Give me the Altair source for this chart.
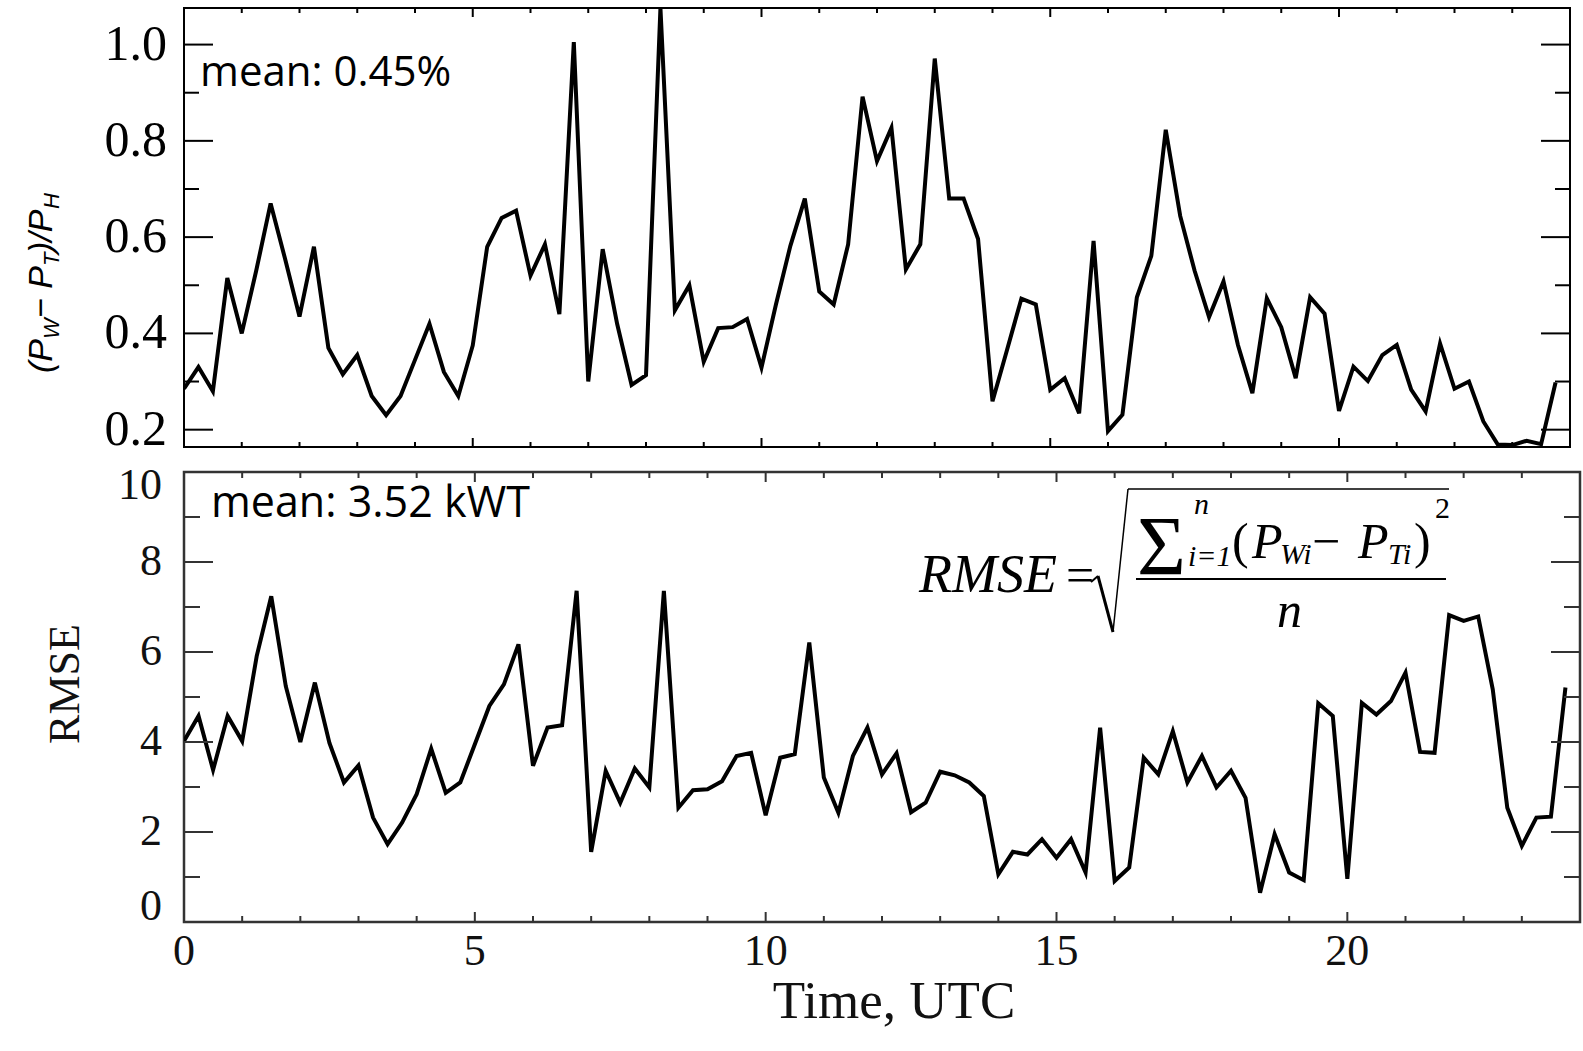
import altair as alt
import pandas as pd

# ---------------- data ----------------
hours = [0.0, 0.25, 0.5, 0.75, 1.0, 1.25, 1.5, 1.75, 2.0, 2.25,
         2.5, 2.75, 3.0, 3.25, 3.5, 3.75, 4.0, 4.25, 4.5, 4.75,
         5.0, 5.25, 5.5, 5.75, 6.0, 6.25, 6.5, 6.75, 7.0, 7.25,
         7.5, 7.75, 8.0, 8.25, 8.5, 8.75, 9.0, 9.25, 9.5, 9.75,
         10.0, 10.25, 10.5, 10.75, 11.0, 11.25, 11.5, 11.75, 12.0, 12.25,
         12.5, 12.75, 13.0, 13.25, 13.5, 13.75, 14.0, 14.25, 14.5, 14.75,
         15.0, 15.25, 15.5, 15.75, 16.0, 16.25, 16.5, 16.75, 17.0, 17.25,
         17.5, 17.75, 18.0, 18.25, 18.5, 18.75, 19.0, 19.25, 19.5, 19.75,
         20.0, 20.25, 20.5, 20.75, 21.0, 21.25, 21.5, 21.75, 22.0, 22.25,
         22.5, 22.75, 23.0, 23.25, 23.5, 23.75]

ratio = [0.285, 0.33, 0.28, 0.515, 0.40, 0.53, 0.67, 0.555, 0.435, 0.58,
         0.37, 0.315, 0.355, 0.27, 0.23, 0.27, 0.345, 0.42, 0.32, 0.27,
         0.375, 0.58, 0.64, 0.655, 0.52, 0.585, 0.44, 1.005, 0.30, 0.575,
         0.42, 0.293, 0.313, 1.076, 0.448, 0.50, 0.341, 0.411, 0.413, 0.43,
         0.329, 0.46, 0.582, 0.68, 0.487, 0.46, 0.585, 0.892, 0.758, 0.827,
         0.533, 0.585, 0.971, 0.68, 0.68, 0.596, 0.259, 0.365, 0.472, 0.46,
         0.283, 0.307, 0.234, 0.592, 0.197, 0.231, 0.475, 0.561, 0.823, 0.644,
         0.53, 0.434, 0.508, 0.376, 0.276, 0.473, 0.413, 0.307, 0.475, 0.441,
         0.239, 0.331, 0.301, 0.355, 0.376, 0.283, 0.238, 0.379, 0.285, 0.30,
         0.217, 0.169, 0.168, 0.177, 0.17, 0.298]

rmse = [4.02, 4.58, 3.38, 4.58, 4.02, 5.91, 7.24, 5.24, 4.0, 5.32,
        3.98, 3.1, 3.48, 2.32, 1.73, 2.21, 2.84, 3.85, 2.87, 3.1,
        3.95, 4.8, 5.28, 6.17, 3.47, 4.32, 4.37, 7.36, 1.56, 3.36,
        2.65, 3.41, 2.99, 7.36, 2.54, 2.93, 2.95, 3.13, 3.69, 3.76,
        2.37, 3.65, 3.73, 6.21, 3.21, 2.43, 3.69, 4.32, 3.28, 3.75,
        2.44, 2.65, 3.34, 3.26, 3.1, 2.8, 1.06, 1.56, 1.5, 1.84,
        1.43, 1.84, 1.1, 4.32, 0.91, 1.21, 3.65, 3.28, 4.24, 3.1,
        3.69, 2.99, 3.36, 2.76, 0.65, 1.95, 1.1, 0.93, 4.86, 4.58,
        0.96, 4.87, 4.61, 4.91, 5.54, 3.78, 3.76, 6.82, 6.69, 6.79,
        5.17, 2.54, 1.69, 2.32, 2.34, 5.21]

x_major = [0, 5, 10, 15, 20]
x_minor = [1, 2, 3, 4, 6, 7, 8, 9, 11, 12, 13, 14, 16, 17, 18, 19, 21, 22, 23]
top_y_major = [0.2, 0.4, 0.6, 0.8, 1.0]
top_y_minor = [0.3, 0.5, 0.7, 0.9]
bot_y_major = [0, 2, 4, 6, 8, 10]
bot_y_minor = [1, 3, 5, 7, 9]

# ---------------- layout constants ----------------
W1, H1 = 1386, 439
W2, H2 = 1396, 450
SERIF = "Liberation Serif"
SANS = "Liberation Sans"

xs = alt.Scale(domain=[0, 24], nice=False, zero=False)
ys_top = alt.Scale(domain=[0.164, 1.076], nice=False, zero=False)
ys_bot = alt.Scale(domain=[0, 10], nice=False, zero=False)

ONE = alt.Data(values=[{}])


def text(t, x, y, size, font, style="normal", align="left",
         baseline="alphabetic", angle=0, color="black"):
    return alt.Chart(ONE).mark_text(
        text=t, font=font, fontSize=size, fontStyle=style, align=align,
        baseline=baseline, angle=angle, color=color
    ).encode(x=alt.value(x), y=alt.value(y))


def seg(x1, y1, x2, y2, w=1.5, color="black"):
    return alt.Chart(ONE).mark_rule(color=color, strokeWidth=w).encode(
        x=alt.value(x1), y=alt.value(y1), x2=alt.value(x2), y2=alt.value(y2))


def yticks(vals, scale, length, width, color, sw=2):
    d = pd.DataFrame({"tk": vals})
    left = alt.Chart(d).mark_rule(color=color, strokeWidth=sw).encode(
        y=alt.Y("tk:Q", scale=scale, axis=None),
        x=alt.value(0), x2=alt.value(length))
    right = alt.Chart(d).mark_rule(color=color, strokeWidth=sw).encode(
        y=alt.Y("tk:Q", scale=scale, axis=None),
        x=alt.value(width - length), x2=alt.value(width))
    return [left, right]


def xticks(vals, length, height, color, sw=2):
    d = pd.DataFrame({"xk": vals})
    bottom = alt.Chart(d).mark_rule(color=color, strokeWidth=sw).encode(
        x=alt.X("xk:Q", scale=xs, axis=None),
        y=alt.value(height), y2=alt.value(height - length))
    top = alt.Chart(d).mark_rule(color=color, strokeWidth=sw).encode(
        x=alt.X("xk:Q", scale=xs, axis=None),
        y=alt.value(0), y2=alt.value(length))
    return [bottom, top]


def ylabels(vals, scale, fmt, xpos, size, color, baseline="middle", dy=0):
    d = pd.DataFrame({"lv": vals})
    return alt.Chart(d).mark_text(
        font=SERIF, fontSize=size, align="right", baseline=baseline,
        dy=dy, color=color
    ).encode(
        y=alt.Y("lv:Q", scale=scale, axis=None),
        x=alt.value(xpos),
        text=alt.Text("lv:Q", format=fmt))


def xlabels(vals, ypos, size, color):
    d = pd.DataFrame({"lx": vals})
    return alt.Chart(d).mark_text(
        font=SERIF, fontSize=size, align="center", baseline="middle", color=color
    ).encode(
        x=alt.X("lx:Q", scale=xs, axis=None),
        y=alt.value(ypos),
        text=alt.Text("lx:Q", format="d"))


# ---------------- top panel ----------------
top_df = pd.DataFrame({"t": hours, "v": ratio})
top_line = alt.Chart(top_df).mark_line(
    color="black", strokeWidth=4, strokeJoin="miter", clip=True
).encode(
    x=alt.X("t:Q", scale=xs, axis=None),
    y=alt.Y("v:Q", scale=ys_top, axis=None),
)

# rotated y title with subscripts: (P_W − P_T)/P_H
TX, TXS = -132, -125
ttl = [
    text("(P", TX, 365, 34, SANS, "italic", angle=270),
    text("W", TXS, 331, 22, SANS, "italic", angle=270),
    text("\u2212 P", TX, 310, 34, SANS, "italic", angle=270),
    text("T", TXS, 258, 22, SANS, "italic", angle=270),
    text(")/P", TX, 245, 34, SANS, "italic", angle=270),
    text("H", TXS, 201, 22, SANS, "italic", angle=270),
]

top = alt.layer(
    top_line,
    *yticks(top_y_major, ys_top, 29, W1, "black"),
    *yticks(top_y_minor, ys_top, 15, W1, "black"),
    *xticks(x_major, 9, H1, "black"),
    *xticks(x_minor, 5, H1, "black"),
    ylabels(top_y_major, ys_top, ".1f", -17, 50, "black"),
    text("mean: 0.45%", 16, 78, 42, "Open Sans"),
    *ttl,
).properties(width=W1, height=H1,
             view=alt.ViewBackground(stroke="black", strokeWidth=2))

# ---------------- bottom panel ----------------
GR = "#333333"
bot_df = pd.DataFrame({"t": hours, "r": rmse})
bot_line = alt.Chart(bot_df).mark_line(
    color="black", strokeWidth=4, strokeJoin="miter", clip=True
).encode(
    x=alt.X("t:Q", scale=xs, axis=None),
    y=alt.Y("r:Q", scale=ys_bot, axis=None),
)

formula = [
    text("RMSE", 735, 120, 54, SERIF, "italic"),
    text("=", 882, 120, 50, SERIF),
    seg(907, 110, 914, 104, 2),
    seg(914, 104, 929, 160, 3),
    seg(929, 160, 944, 17, 1.5),
    seg(944, 17, 1265, 17, 1.5),
    text("\u03a3", 953, 103, 84, SERIF),
    text("n", 1010, 42, 30, SERIF, "italic"),
    text("i=1", 1004, 94, 30, SERIF, "italic"),
    text("(", 1048, 86, 50, SERIF),
    text("P", 1068, 86, 50, SERIF, "italic"),
    text("Wi", 1096, 92, 30, SERIF, "italic"),
    text("\u2212", 1128, 86, 50, SERIF),
    text("P", 1174, 86, 50, SERIF, "italic"),
    text("Ti", 1204, 92, 30, SERIF, "italic"),
    text(")", 1230, 86, 50, SERIF),
    text("2", 1251, 46, 30, SERIF),
    seg(952, 107, 1262, 107, 2),
    text("n", 1093, 155, 50, SERIF, "italic"),
]

bottom = alt.layer(
    bot_line,
    *yticks(bot_y_major, ys_bot, 29, W2, GR),
    *yticks(bot_y_minor, ys_bot, 16, W2, GR),
    *xticks(x_major, 10, H2, GR),
    *xticks(x_minor, 6, H2, GR),
    ylabels(bot_y_major[1:-1], ys_bot, "d", -22, 44, "#111"),
    ylabels(bot_y_major[-1:], ys_bot, "d", -22, 44, "#111",
            baseline="alphabetic", dy=27),
    ylabels(bot_y_major[:1], ys_bot, "d", -22, 44, "#111",
            baseline="alphabetic", dy=-2),
    xlabels(x_major, H2 + 30, 44, "#111"),
    text("mean: 3.52 kWT", 27, 45, 43, "Open Sans"),
    text("RMSE", -105, 212, 44, SERIF, align="center", angle=270, color="#111"),
    text("Time, UTC", 710, 546, 53, SERIF, align="center", color="#111"),
    *formula,
).properties(width=W2, height=H2,
             view=alt.ViewBackground(stroke=GR, strokeWidth=2.5))

chart = alt.vconcat(top, bottom, spacing=25, bounds="flush").properties(
    padding={"left": 24, "top": 6, "right": 0, "bottom": 0},
    background="white",
)

chart.save("out.html", embed_options={"renderer": "svg", "actions": False})
